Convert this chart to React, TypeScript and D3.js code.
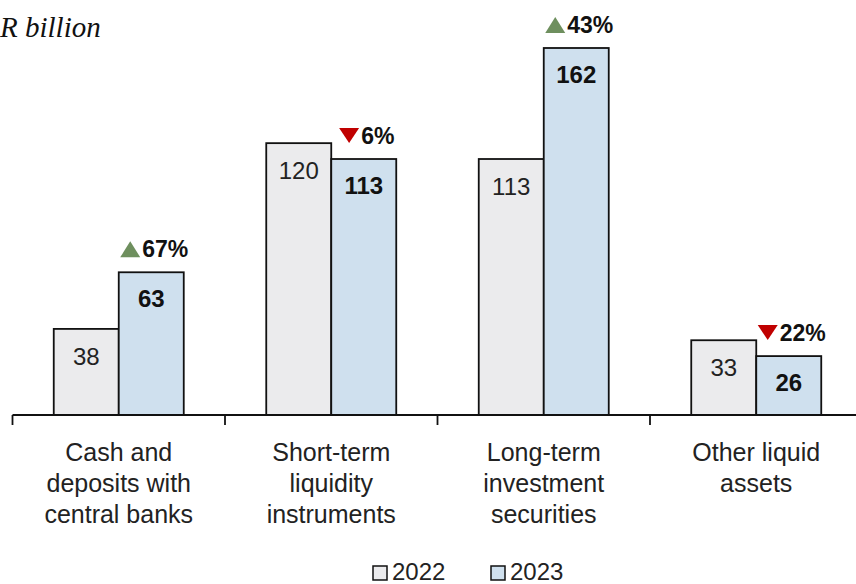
import React from "react";
import * as d3 from "d3";

const categories = [
  ["Cash and", "deposits with", "central banks"],
  ["Short-term", "liquidity", "instruments"],
  ["Long-term", "investment", "securities"],
  ["Other liquid", "assets"],
];
const values2022 = [38, 120, 113, 33];
const values2023 = [63, 113, 162, 26];
const changes = [67, -6, 43, -22];
const seriesNames = ["2022", "2023"];

const W = 856, H = 584;
const FONT = "'Liberation Sans', Arial, Helvetica, sans-serif";

export default function App() {
  const x = d3.scaleBand<number>().domain([0, 1, 2, 3]).range([12.5, 862.5]);
  const y = d3.scaleLinear().domain([0, 162]).range([415, 48]);
  const bw = 65;
  const base = y(0);
  const pctSize = 23;
  return (
    <svg width={W} height={H} style={{ position: "absolute", left: 0, top: 0, background: "#fff" }}>
      <text x={0} y={37} fontFamily="'Liberation Serif', 'Times New Roman', serif" fontStyle="italic" fontSize={29} fill="#111">R billion</text>
      {categories.map((lines, i) => {
        const c = x(i)! + x.bandwidth() / 2;
        const v0 = values2022[i], v1 = values2023[i];
        const ch = changes[i];
        const up = ch > 0;
        const ty = y(v1) - 15;
        const label = `${Math.abs(ch)}%`;
        const digits = label.length - 1;
        const tw = (digits * 0.556 + 0.889) * pctSize;
        const totalW = 22 + tw;
        const sx = c + bw / 2 + 3 - totalW / 2;
        return (
          <g key={i}>
            <rect x={c - bw} y={y(v0)} width={bw} height={base - y(v0)} fill="#ebebed" stroke="#111" strokeWidth={1.8} />
            <rect x={c} y={y(v1)} width={bw} height={base - y(v1)} fill="#cfe0ee" stroke="#111" strokeWidth={1.8} />
            <text x={c - bw / 2} y={y(v0) + 36} textAnchor="middle" fontFamily={FONT} fontSize={24} fill="#222">{v0}</text>
            <text x={c + bw / 2} y={y(v1) + 35} textAnchor="middle" fontFamily={FONT} fontSize={24} fontWeight="bold" fill="#111">{v1}</text>
            {up ? (
              <path d={`M${sx},${ty} L${sx + 20},${ty} L${sx + 10},${ty - 16} Z`} fill="#6e8f5e" />
            ) : (
              <path d={`M${sx},${ty - 16} L${sx + 20},${ty - 16} L${sx + 10},${ty - 1} Z`} fill="#c00000" />
            )}
            <text x={sx + 22} y={ty} fontFamily={FONT} fontSize={pctSize} fontWeight="bold" fill="#111">{label}</text>
            {lines.map((l, j) => (
              <text key={j} x={c} y={461 + j * 31} textAnchor="middle" fontFamily={FONT} fontSize={25} fill="#222">{l}</text>
            ))}
          </g>
        );
      })}
      <line x1={12.5} x2={W} y1={base} y2={base} stroke="#111" strokeWidth={1.8} />
      {[0, 1, 2, 3, 4].map((i) => {
        const tx = 12.5 + i * x.step();
        return <line key={i} x1={tx} x2={tx} y1={base} y2={base + 10} stroke="#111" strokeWidth={1.8} />;
      })}
      {seriesNames.map((s, i) => {
        const lx = 373 + i * 118;
        return (
          <g key={s}>
            <rect x={lx} y={566} width={14} height={14} fill={i === 0 ? "#ebebed" : "#cfe0ee"} stroke="#111" strokeWidth={1.5} />
            <text x={lx + 19} y={580} fontFamily={FONT} fontSize={24} fill="#222">{s}</text>
          </g>
        );
      })}
    </svg>
  );
}
